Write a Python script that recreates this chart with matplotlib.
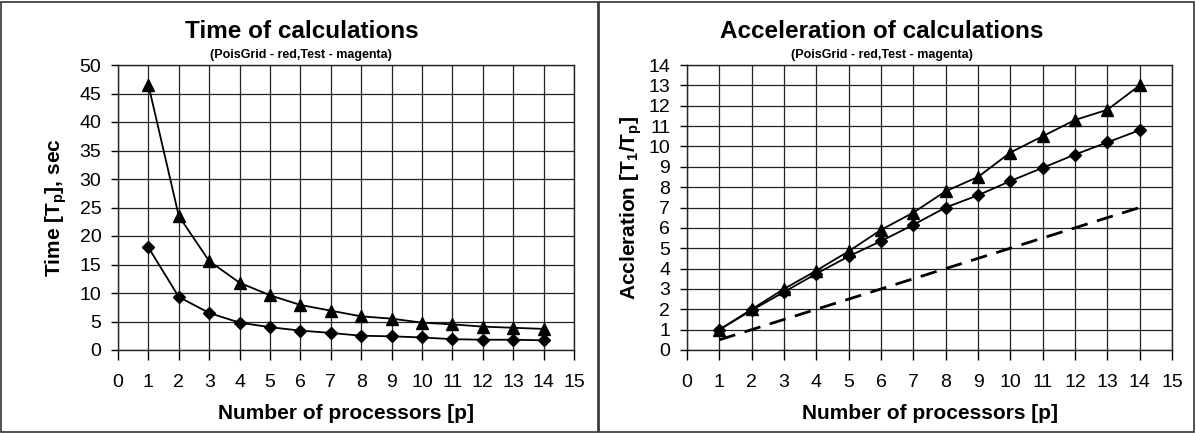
import matplotlib
matplotlib.use("Agg")
import matplotlib.pyplot as plt
from matplotlib.patches import Rectangle

plt.rcParams["font.family"] = ["Liberation Sans", "DejaVu Sans"]
plt.rcParams["mathtext.fontset"] = "custom"
plt.rcParams["mathtext.rm"] = "Liberation Sans:bold"

# datos
procesadores = [1, 2, 3, 4, 5, 6, 7, 8, 9, 10, 11, 12, 13, 14]
tiempo_test = [46.5, 23.5, 15.6, 11.8, 9.6, 7.9, 6.9, 5.9, 5.5, 4.8, 4.5, 4.1, 3.9, 3.7]
tiempo_pois = [18.0, 9.3, 6.5, 4.8, 4.0, 3.4, 3.0, 2.5, 2.4, 2.2, 1.9, 1.8, 1.8, 1.7]
acel_test = [1.0, 2.0, 3.0, 3.9, 4.85, 5.9, 6.75, 7.8, 8.5, 9.7, 10.5, 11.3, 11.8, 13.0]
acel_pois = [1.0, 1.95, 2.85, 3.75, 4.6, 5.35, 6.15, 7.0, 7.6, 8.3, 8.95, 9.6, 10.2, 10.8]
acel_ref = [0.5, 1.0, 1.5, 2.0, 2.5, 3.0, 3.5, 4.0, 4.5, 5.0, 5.5, 6.0, 6.5, 7.0]

W, H = 1196, 433
fig = plt.figure(figsize=(W / 100, H / 100), dpi=100)

# marcos de los paneles
fig.patches.append(Rectangle((1 / W, 1 / H), 597 / W, 430 / H, transform=fig.transFigure,
                             fill=False, edgecolor="#333333", linewidth=1.2))
fig.patches.append(Rectangle((599 / W, 1 / H), 595 / W, 430 / H, transform=fig.transFigure,
                             fill=False, edgecolor="#333333", linewidth=1.2))


def caja(x0, x1, ytop, ybot):
    return [x0 / W, 1 - ybot / H, (x1 - x0) / W, (ybot - ytop) / H]


def estilo(ax, ymax, ystep):
    ax.set_xlim(0, 15)
    ax.set_ylim(0, ymax)
    ax.set_xticks(range(0, 16))
    ax.set_yticks(range(0, ymax + 1, ystep))
    ax.grid(True, color="#222222", linewidth=0.9)
    ax.set_axisbelow(True)
    for s in ax.spines.values():
        s.set_color("#222222")
        s.set_linewidth(1.0)
    ax.tick_params(axis="x", direction="out", length=7, width=1, labelsize=14, pad=10)
    ax.tick_params(axis="y", direction="out", length=5, width=1, labelsize=14, pad=7)
    ax.set_xlabel("Number of processors [p]", fontsize=15, fontweight="bold")
    ax.xaxis.set_label_coords(0.5, -0.19)


# grafico 1: tiempo
ax1 = fig.add_axes(caja(118, 574, 65, 350))
estilo(ax1, 50, 5)
ax1.plot(procesadores, tiempo_test, color="black", linewidth=1.3, marker="^", markersize=9)
ax1.plot(procesadores, tiempo_pois, color="black", linewidth=1.3, marker="D", markersize=6.5)
ax1.set_ylabel(r"Time [T$_\mathrm{p}$], sec", fontsize=15, fontweight="bold")
ax1.yaxis.set_label_coords(-0.108, 0.5)
fig.text(302 / W, 1 - 31 / H, "Time of calculations", ha="center", va="center",
         fontsize=17.5, fontweight="bold")
fig.text(301 / W, 1 - 55 / H, "(PoisGrid - red,Test - magenta)", ha="center", va="center",
         fontsize=9, fontweight="bold")

# grafico 2: aceleracion
ax2 = fig.add_axes(caja(687, 1172, 65, 350))
estilo(ax2, 14, 1)
ax2.plot(procesadores, acel_test, color="black", linewidth=1.3, marker="^", markersize=9)
ax2.plot(procesadores, acel_pois, color="black", linewidth=1.3, marker="D", markersize=6.5)
ax2.plot(procesadores, acel_ref, color="black", linewidth=2, linestyle=(0, (6, 3.5)))
ax2.set_ylabel(r"Accleration [T$_\mathrm{1}$/T$_\mathrm{p}$]", fontsize=15, fontweight="bold")
ax2.yaxis.set_label_coords(-0.089, 0.5)
fig.text(882 / W, 1 - 31 / H, "Acceleration of calculations", ha="center", va="center",
         fontsize=17.5, fontweight="bold")
fig.text(882 / W, 1 - 55 / H, "(PoisGrid - red,Test - magenta)", ha="center", va="center",
         fontsize=9, fontweight="bold")

fig.savefig("out.png", dpi=100)
